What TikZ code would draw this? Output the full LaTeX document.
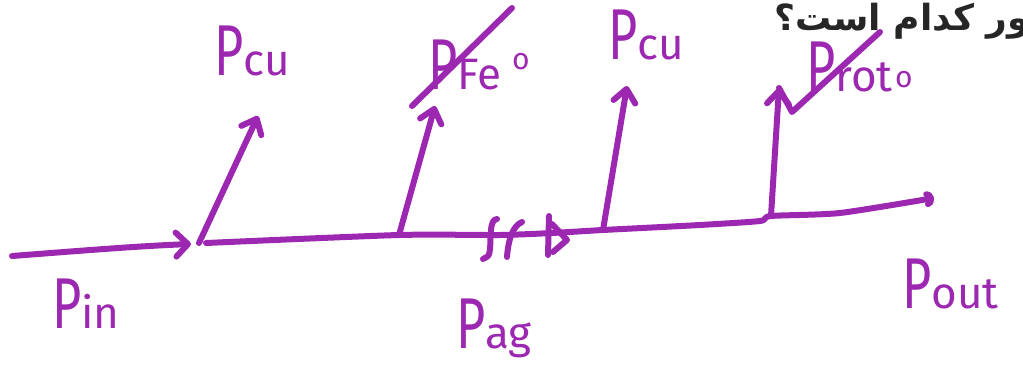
\documentclass[tikz,border=0pt]{standalone}
\usepackage{fontspec}
\usepackage{graphicx}
\setmainfont{Fira Sans}
\newfontfamily\farsi[Script=Arabic]{DejaVu Sans}
\TeXXeTstate=1
\usetikzlibrary{arrows.meta}
\definecolor{pen}{RGB}{156,39,176}
% power label: narrow P with smaller index
\newcommand{\pwr}[1]{\scalebox{0.7}[1]{P}{\fontsize{44}{44}\selectfont #1}}

\begin{document}
\begin{tikzpicture}[x=1pt,y=-1pt]
    % ===== PARAMETERS =====
    \pgfmathsetmacro{\LW}{6}   % pen width in pt

    \tikzset{
        ink/.style={draw=pen, line width=\LW pt, line cap=round, line join=round},
        hand/.style={text=pen, font=\fontsize{72}{72}\selectfont, inner sep=0pt, anchor=base west},
        upbarb/.style={-{Straight Barb[round, length=13pt, width=22pt]}},
        zero/.style={text=pen, font=\fontsize{30}{30}\selectfont, inner sep=0pt}
    }
    \useasboundingbox (0,0) rectangle (1023,377);

    % ===== POINTS ON THE FLOW LINE =====
    \coordinate (in)   at (12,256);
    \coordinate (gap)  at (191,244);
    \coordinate (tap1) at (199,243);
    \coordinate (tap2) at (399,235);
    \coordinate (brk)  at (500,235);
    \coordinate (tri)  at (552,233);
    \coordinate (tap3) at (603,230);
    \coordinate (tap4) at (771,216);
    \coordinate (out)  at (934,198);

    % Arrow heads of the losses
    \coordinate (hd1) at (258,116);
    \coordinate (hd2) at (435,106);
    \coordinate (hd3) at (627,86);
    \coordinate (hd4) at (779,88);

    % ===== FLOW LINE =====
    \draw[ink, -{Straight Barb[round, length=12pt, width=24pt]}]
        (in) .. controls (90,250) and (140,246) .. (gap);
    \draw[ink, -{Arc Barb[round, length=7pt, width=16pt]}]
        plot[smooth, tension=0.4] coordinates {(206,243) (tap2) (brk) (tri) (tap3) (700,225) (760,221) (tap4) (840,213) (out)};

    % ===== LOSS ARROWS =====
    \draw[ink, upbarb] (tap1) -- (hd1);
    \draw[ink, upbarb] (tap2) -- (hd2);
    \draw[ink, upbarb] (tap3) -- (hd3);
    \draw[ink, upbarb] (tap4) -- (hd4);

    % Break mark and diode sign on the line
    \draw[ink] (497,219) .. controls (489,219) and (491,240) .. (490,249) .. controls (489,256) .. (483,259);
    \draw[ink] (522,222) .. controls (512,226) and (508,242) .. (507,257);
    \draw[ink] (549,216) -- (548,255);
    \draw[ink] (552,224) -- (567,240) -- (553,252);

    % ===== LABELS =====
    \node[hand] (pcu1) at (214,76)  {\pwr{cu}};
    \node[hand] (pfe)  at (428,90)  {\pwr{Fe}};
    \node[hand] (pcu2) at (608,60)  {\pwr{cu}};
    \node[hand] (prot) at (806,92)  {\pwr{rot}};
    \node[hand] (pin)  at (52,328)  {\pwr{in}};
    \node[hand] (pag)  at (456,348) {\pwr{ag}};
    \node[hand] (pout) at (902,308) {\pwr{out}};

    % zero marks
    \node[zero] (fe0)  at (521,62) {o};
    \node[zero] (rot0) at (904,80) {o};

    % strike-outs
    \coordinate (s1a) at (412,106);
    \coordinate (s1b) at (512,8);
    \coordinate (s2a) at (792,112);
    \coordinate (s2b) at (880,32);
    \draw[ink] (s1a) -- (s1b);
    \draw[ink] (hd4) -- (s2a) -- (s2b);

    % ===== QUESTION TEXT (cut at the edge) =====
    \node[anchor=base east, inner sep=0pt, font=\farsi\bfseries\fontsize{36}{36}\selectfont, text=black!85]
        (qtext) at (1030,31) {\beginR ور کدام است؟\endR};
\end{tikzpicture}
\end{document}
